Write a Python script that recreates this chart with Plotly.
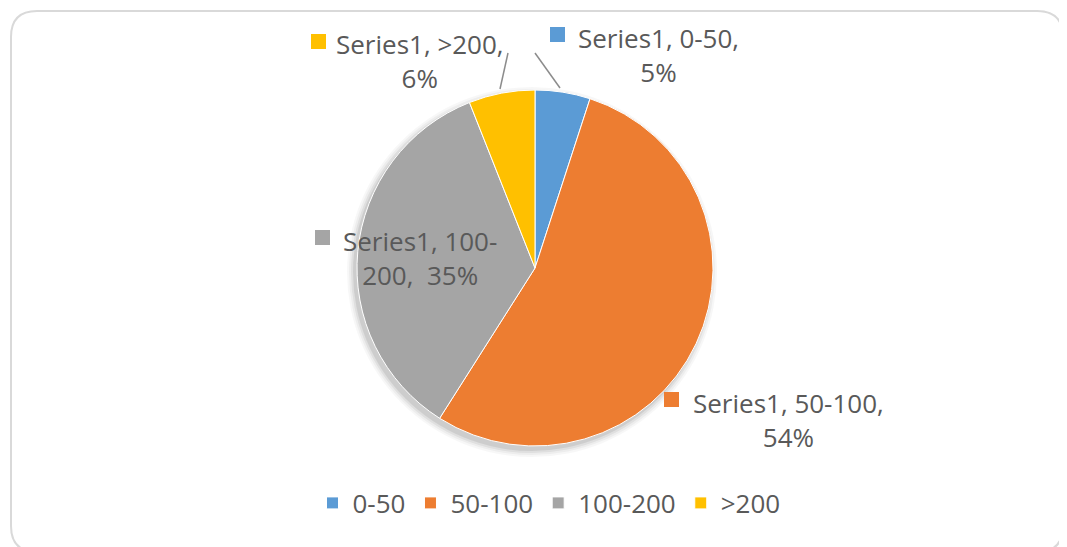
import plotly.graph_objects as go

# ── Data ─────────────────────────────────────────────────────────────────────
categories = ["0-50", "50-100", "100-200", ">200"]
values = [5, 54, 35, 6]
series_name = "Series1"
colors = ["#5B9BD5", "#ED7D31", "#A5A5A5", "#FFC000"]

# page is 1067x547, the html body adds an 8 px margin
OFF = 8
W, H = 1067 - OFF, 547 - OFF
FONT = "Open Sans, Lato, sans-serif"
TEXT_COLOR = "#595959"


def px(x):
    # page pixel -> paper x
    return (x - OFF) / W


def py(y):
    # page pixel -> paper y
    return 1 - (y - OFF) / H


fig = go.Figure()

# pie: centre ~(535, 268), radius ~178 px
cx, cy, r = 535, 268, 178
fig.add_trace(go.Pie(
    labels=categories,
    values=values,
    sort=False,
    direction="clockwise",
    rotation=0,
    marker=dict(colors=colors, line=dict(color="#FFFFFF", width=1)),
    textinfo="none",
    hoverinfo="label+percent",
    domain=dict(x=[px(cx - r), px(cx + r)], y=[py(cy + r), py(cy - r)]),
))

shapes = []
annotations = []

# soft drop shadow under the pie
for grow, alpha in [(7, 0.03), (5, 0.04), (3, 0.06), (1, 0.08)]:
    sx0, sx1 = cx - 3 - r - grow, cx - 3 + r + grow
    sy0, sy1 = cy + 4 - r - grow, cy + 4 + r + grow
    shapes.append(dict(
        type="circle", xref="paper", yref="paper", layer="below",
        x0=px(sx0), x1=px(sx1), y0=py(sy1), y1=py(sy0),
        fillcolor=f"rgba(0,0,0,{alpha})", line=dict(width=0),
    ))

# ── Data labels (Excel style, outside with colour keys) ──────────────────────
total = sum(values)
label_pos = {  # text centre (px), key square top-left (px)
    "0-50": ((658, 55), (550, 27)),
    "50-100": ((788, 420), (664, 392)),
    "100-200": ((420, 258), (315, 230)),
    ">200": ((420, 61), (311, 34)),
}
label_text = {
    "0-50": "{s}, {c},<br>{p}%",
    "50-100": "{s}, {c},<br>{p}%",
    "100-200": "{s}, 100-<br>200,  {p}%",
    ">200": "{s}, {c},<br>{p}%",
}

for cat, val, col in zip(categories, values, colors):
    (tx, ty), (sx, sy) = label_pos[cat]
    pct = round(100 * val / total)
    annotations.append(dict(
        x=px(tx), y=py(ty), xref="paper", yref="paper",
        xanchor="center", yanchor="middle", showarrow=False,
        align="center",
        text=label_text[cat].format(s=series_name, c=cat.replace(">", "&gt;"), p=pct),
        font=dict(size=26, color=TEXT_COLOR, family=FONT),
    ))
    shapes.append(dict(
        type="rect", xref="paper", yref="paper",
        x0=px(sx), x1=px(sx + 15), y0=py(sy + 15), y1=py(sy),
        fillcolor=col, line=dict(width=0),
    ))

# leader lines for the two small top slices
for (x0, y0), (x1, y1) in [((508, 53), (500, 89)), ((535, 53), (560, 88))]:
    shapes.append(dict(
        type="line", xref="paper", yref="paper",
        x0=px(x0), y0=py(y0), x1=px(x1), y1=py(y1),
        line=dict(color="#8C8C8C", width=1.5),
    ))

# rounded chart-area border
bx0, by0, bx1, by1, rad = 11, 11, 1063, 552, 26
path = (
    f"M {px(bx0 + rad)},{py(by0)} L {px(bx1 - rad)},{py(by0)} "
    f"Q {px(bx1)},{py(by0)} {px(bx1)},{py(by0 + rad)} "
    f"L {px(bx1)},{py(by1 - rad)} "
    f"Q {px(bx1)},{py(by1)} {px(bx1 - rad)},{py(by1)} "
    f"L {px(bx0 + rad)},{py(by1)} "
    f"Q {px(bx0)},{py(by1)} {px(bx0)},{py(by1 - rad)} "
    f"L {px(bx0)},{py(by0 + rad)} "
    f"Q {px(bx0)},{py(by0)} {px(bx0 + rad)},{py(by0)} Z"
)
shapes.append(dict(
    type="path", xref="paper", yref="paper", path=path,
    line=dict(color="#D9D9D9", width=2), layer="below",
))

fig.update_layout(
    width=W, height=H,
    margin=dict(l=0, r=0, t=0, b=0),
    paper_bgcolor="#FFFFFF",
    plot_bgcolor="#FFFFFF",
    font=dict(family=FONT, color=TEXT_COLOR, size=26),
    showlegend=True,
    legend=dict(
        orientation="h",
        x=px(549), y=py(503),
        xanchor="center", yanchor="middle",
        bgcolor="rgba(0,0,0,0)",
        font=dict(size=26, color=TEXT_COLOR, family=FONT),
        itemwidth=30,
    ),
    shapes=shapes,
    annotations=annotations,
)

fig.write_html("out.html")
